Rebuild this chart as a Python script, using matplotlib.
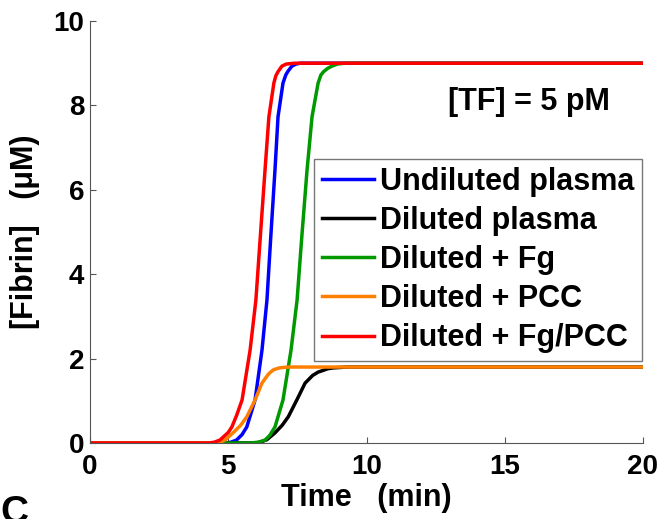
import numpy as np
import matplotlib
matplotlib.use("Agg")
import matplotlib.pyplot as plt

plt.rcParams["font.family"] = ["Liberation Sans", "DejaVu Sans"]
plt.rcParams["font.weight"] = "bold"

# curvas (tempo em min, fibrina em uM)
t_undil = [0, 4.9, 5.1, 5.3, 5.5, 5.67, 5.97, 6.22, 6.4, 6.53, 6.69, 6.8, 6.98, 7.08, 7.15, 7.3, 7.45, 7.6, 20]
y_undil = [0, 0, 0.02, 0.07, 0.2, 0.38, 1.02, 2.2, 3.39, 4.8, 6.47, 7.73, 8.53, 8.72, 8.8, 8.93, 8.98, 9.0, 9.0]

t_dil = [0, 6.0, 6.2, 6.4, 6.69, 6.95, 7.17, 7.48, 7.78, 8.05, 8.25, 8.43, 8.6, 8.8, 9.3, 20]
y_dil = [0, 0, 0.03, 0.08, 0.24, 0.42, 0.62, 1.02, 1.42, 1.6, 1.68, 1.72, 1.76, 1.78, 1.8, 1.8]

t_fg = [0, 5.8, 6.1, 6.33, 6.5, 6.69, 6.98, 7.27, 7.49, 7.65, 7.85, 8.03, 8.25, 8.35, 8.45, 8.6, 8.75, 8.95, 9.2, 20]
y_fg = [0, 0, 0.02, 0.07, 0.18, 0.38, 1.02, 2.2, 3.39, 4.8, 6.47, 7.73, 8.53, 8.72, 8.8, 8.88, 8.93, 8.98, 9.0, 9.0]

t_pcc = [0, 4.6, 4.75, 4.9, 5.17, 5.45, 5.67, 5.97, 6.22, 6.45, 6.62, 6.75, 6.85, 7.0, 7.2, 20]
y_pcc = [0, 0, 0.03, 0.08, 0.24, 0.42, 0.62, 1.02, 1.42, 1.63, 1.73, 1.76, 1.78, 1.79, 1.8, 1.8]

t_fgpcc = [0, 4.3, 4.5, 4.7, 5.0, 5.13, 5.3, 5.5, 5.79, 6.0, 6.15, 6.33, 6.47, 6.65, 6.72, 6.8, 6.94, 7.1, 7.4, 20]
y_fgpcc = [0, 0, 0.02, 0.07, 0.25, 0.38, 0.65, 1.02, 2.2, 3.39, 4.8, 6.47, 7.73, 8.53, 8.7, 8.8, 8.93, 8.98, 9.0, 9.0]

series = [
    (t_undil, y_undil, "Undiluted plasma", "#0000ff"),
    (t_dil, y_dil, "Diluted plasma", "#000000"),
    (t_fg, y_fg, "Diluted + Fg", "#009900"),
    (t_pcc, y_pcc, "Diluted + PCC", "#ff8000"),
    (t_fgpcc, y_fgpcc, "Diluted + Fg/PCC", "#ff0000"),
]

fig = plt.figure(figsize=(6.63, 5.19), dpi=100)
ax = fig.add_axes([90 / 663, 1 - 443 / 519, 553 / 663, 422 / 519])

for t, y, lab, cor in series:
    ax.plot(t, y, color=cor, lw=2.5, label=lab, solid_joinstyle="round")

ax.set_xlim(0, 20)
ax.set_ylim(0, 10)
ax.set_xticks([0, 5, 10, 15, 20])
ax.set_yticks([0, 2, 4, 6, 8, 10])

for s in ["top", "right"]:
    ax.spines[s].set_visible(False)
for s in ["left", "bottom"]:
    ax.spines[s].set_color("#555555")
    ax.spines[s].set_linewidth(0.8)

ax.tick_params(direction="in", length=4, width=0.8, color="#555555",
               labelsize=20)
ax.tick_params(axis="x", pad=8)
ax.tick_params(axis="y", pad=4)
for lbl in ax.get_xticklabels() + ax.get_yticklabels():
    lbl.set_fontweight("bold")

ax.set_xlabel("Time   (min)", fontsize=22, fontweight="bold")
ax.set_ylabel("[Fibrin]   (μM)", fontsize=22, fontweight="bold")
ax.xaxis.set_label_coords(0.5, -0.095)
ax.yaxis.set_label_coords(-0.09, 0.5)

ax.text(18.8, 8.08, "[TF] = 5 pM", fontsize=22, fontweight="bold",
        ha="right", va="center")

leg = ax.legend(loc="upper right", bbox_to_anchor=(642 / 663, 1 - 159 / 519),
                bbox_transform=fig.transFigure, prop={"size": 22, "weight": "bold"},
                frameon=True, fancybox=False, framealpha=1, edgecolor="#777777",
                handlelength=1.7, handletextpad=0.2, labelspacing=0.3,
                borderpad=0.25, borderaxespad=0)
leg.get_frame().set_linewidth(1.0)

fig.text(0.0, 1 - 495 / 519, "C", fontsize=28, fontweight="bold",
         ha="left", va="top")

fig.savefig("out.png", dpi=100)
